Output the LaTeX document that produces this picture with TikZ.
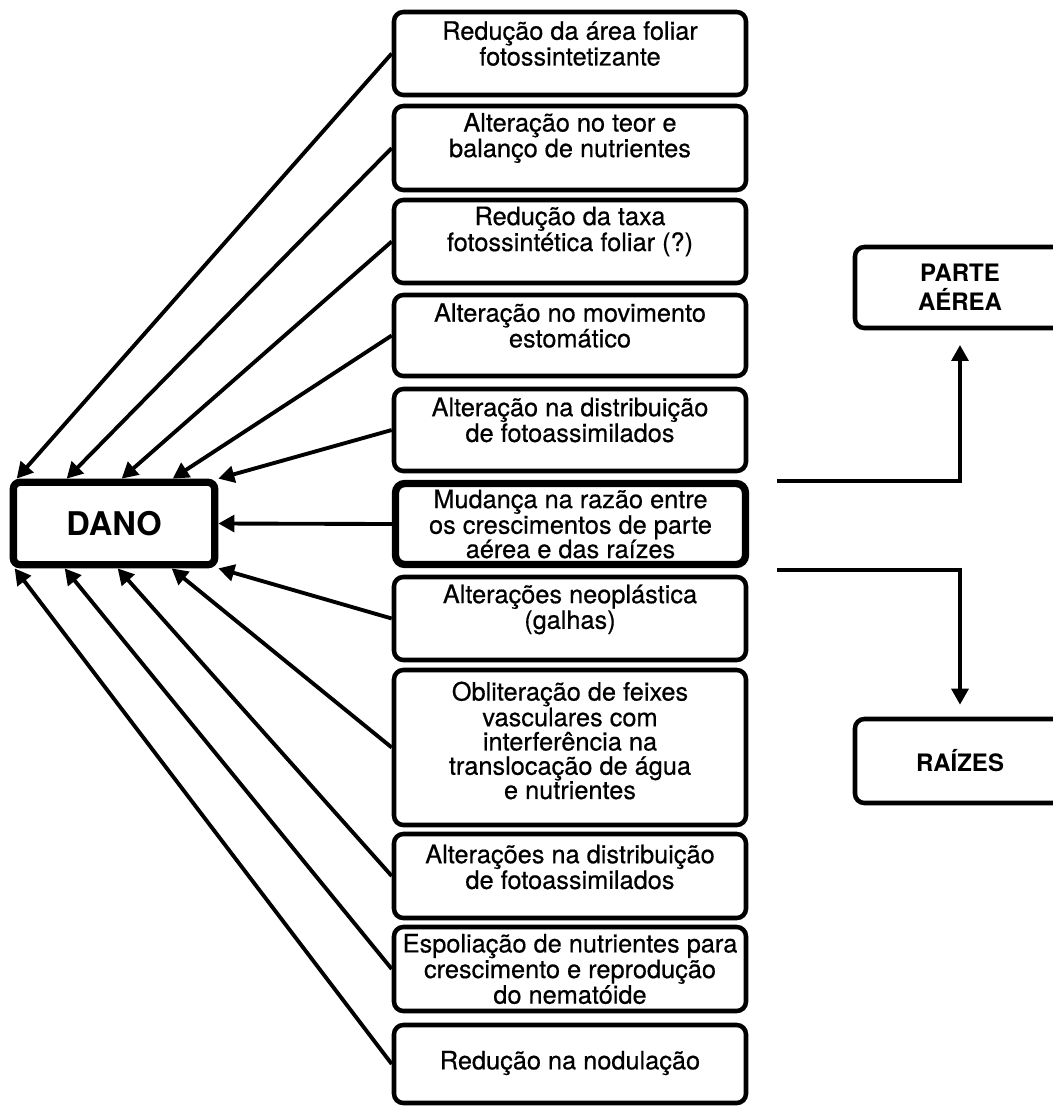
\documentclass[tikz,border=0pt]{standalone}
\usepackage{fontspec}
\setmainfont{TeX Gyre Heros}
\newfontfamily\txtfont[FakeBold=0.5]{TeX Gyre Heros}
\usetikzlibrary{arrows.meta,calc}
\begin{document}
\begin{tikzpicture}[x=0.75pt,y=-0.75pt,
  box/.style={draw, line width=3.4pt, rounded corners=7pt, minimum width=264pt, inner sep=0pt},
  thickbox/.style={box, line width=5.5pt, minimum width=262.5pt},
  txt/.style={align=center, inner sep=0pt, font=\txtfont\fontsize{19}{18.2}\selectfont},
  sidebox/.style={draw, line width=3.4pt, rounded corners=7pt, minimum width=157.5pt,
    align=center, inner sep=0pt, font=\bfseries\fontsize{18}{21.5}\selectfont},
  danobox/.style={draw, line width=5.5pt, rounded corners=5pt, minimum width=151pt,
    minimum height=61.8pt, inner sep=0pt, font=\bfseries\fontsize{24.5}{26}\selectfont},
  arr/.style={line width=2.9pt, -{Triangle[length=12pt,width=12.5pt]}},
]
\useasboundingbox (0,0) rectangle (1053,1108);
\fill[white] (0,0) rectangle (1053,1108);

\node[box, minimum height=62.25pt] (b1) at (570,53.5) {};
\node[box, minimum height=63pt] (b2) at (570,148) {};
\node[box, minimum height=62.25pt] (b3) at (570,241.5) {};
\node[box, minimum height=60.75pt] (b4) at (570,335.5) {};
\node[box, minimum height=61.5pt] (b5) at (570,430) {};
\node[thickbox, minimum height=60.75pt] (b6) at (570.5,524) {};
\node[box, minimum height=62.25pt] (b7) at (570,618.5) {};
\node[box, minimum height=116.25pt] (b8) at (570,747.5) {};
\node[box, minimum height=63pt] (b9) at (570,876) {};
\node[box, minimum height=63pt] (b10) at (570,969) {};
\node[box, minimum height=58.5pt] (b11) at (570,1064) {};

\node[txt] (t1) at ($(b1)+(0,-10)$) {Redução da área foliar\\fotossintetizante};
\node[txt] (t2) at ($(b2)+(0,-10)$) {Alteração no teor e\\balanço de nutrientes};
\node[txt] (t3) at ($(b3)+(0,-10)$) {Redução da taxa\\fotossintética foliar (?)};
\node[txt] (t4) at ($(b4)+(0,-10)$) {Alteração no movimento\\estomático};
\node[txt] (t5) at ($(b5)+(0,-10)$) {Alteração na distribuição\\de fotoassimilados};
\node[txt] (t6) at ($(b6)+(0,0)$) {Mudança na razão entre\\os crescimentos de parte\\aérea e das raízes};
\node[txt] (t7) at ($(b7)+(0,-9)$) {Alterações neoplástica\\(galhas)};
\node[txt] (t8) at ($(b8)+(0,-7)$) {Obliteração de feixes\\vasculares com\\interferência na\\translocação de água\\e nutrientes};
\node[txt] (t9) at ($(b9)+(0,-9)$) {Alterações na distribuição\\de fotoassimilados};
\node[txt] (t10) at ($(b10)+(0,0)$) {Espoliação de nutrientes para\\crescimento e reprodução\\do nematóide};
\node[txt] (t11) at ($(b11)+(0,-1)$) {Redução na nodulação};

\node[danobox] (dano) at (114,523.5) {DANO};

\node[sidebox, minimum height=60.75pt] (pa) at (960,287.5) {PARTE\\AÉREA};
\node[sidebox, minimum height=63pt] (ra) at (960,761) {RAÍZES};

\draw[arr] (b1.west) -- ($(dano.north west)+(7,0)$);
\draw[arr] (b2.west) -- ($(dano.north west)+(57,0)$);
\draw[arr] (b3.west) -- ($(dano.north west)+(112,0)$);
\draw[arr] (b4.west) -- ($(dano.north west)+(163,0)$);
\draw[arr] (b5.west) -- (dano.north east);
\draw[arr] (b6.west) -- (dano.east);
\draw[arr] (b7.west) -- (dano.south east);
\draw[arr] (b8.west) -- ($(dano.south west)+(162,0)$);
\draw[arr] (b9.west) -- ($(dano.south west)+(108,0)$);
\draw[arr] (b10.west) -- ($(dano.south west)+(55,0)$);
\draw[arr] (b11.west) -- ($(dano.south west)+(5,0)$);

\coordinate (c1) at ($(b6.north east)+(28,1)$);
\coordinate (c2) at ($(b6.south east)+(28,2)$);
\draw[arr, shorten >=11pt] (c1) -| (pa);
\draw[arr, shorten >=9pt] (c2) -| (ra);
\end{tikzpicture}
\end{document}
